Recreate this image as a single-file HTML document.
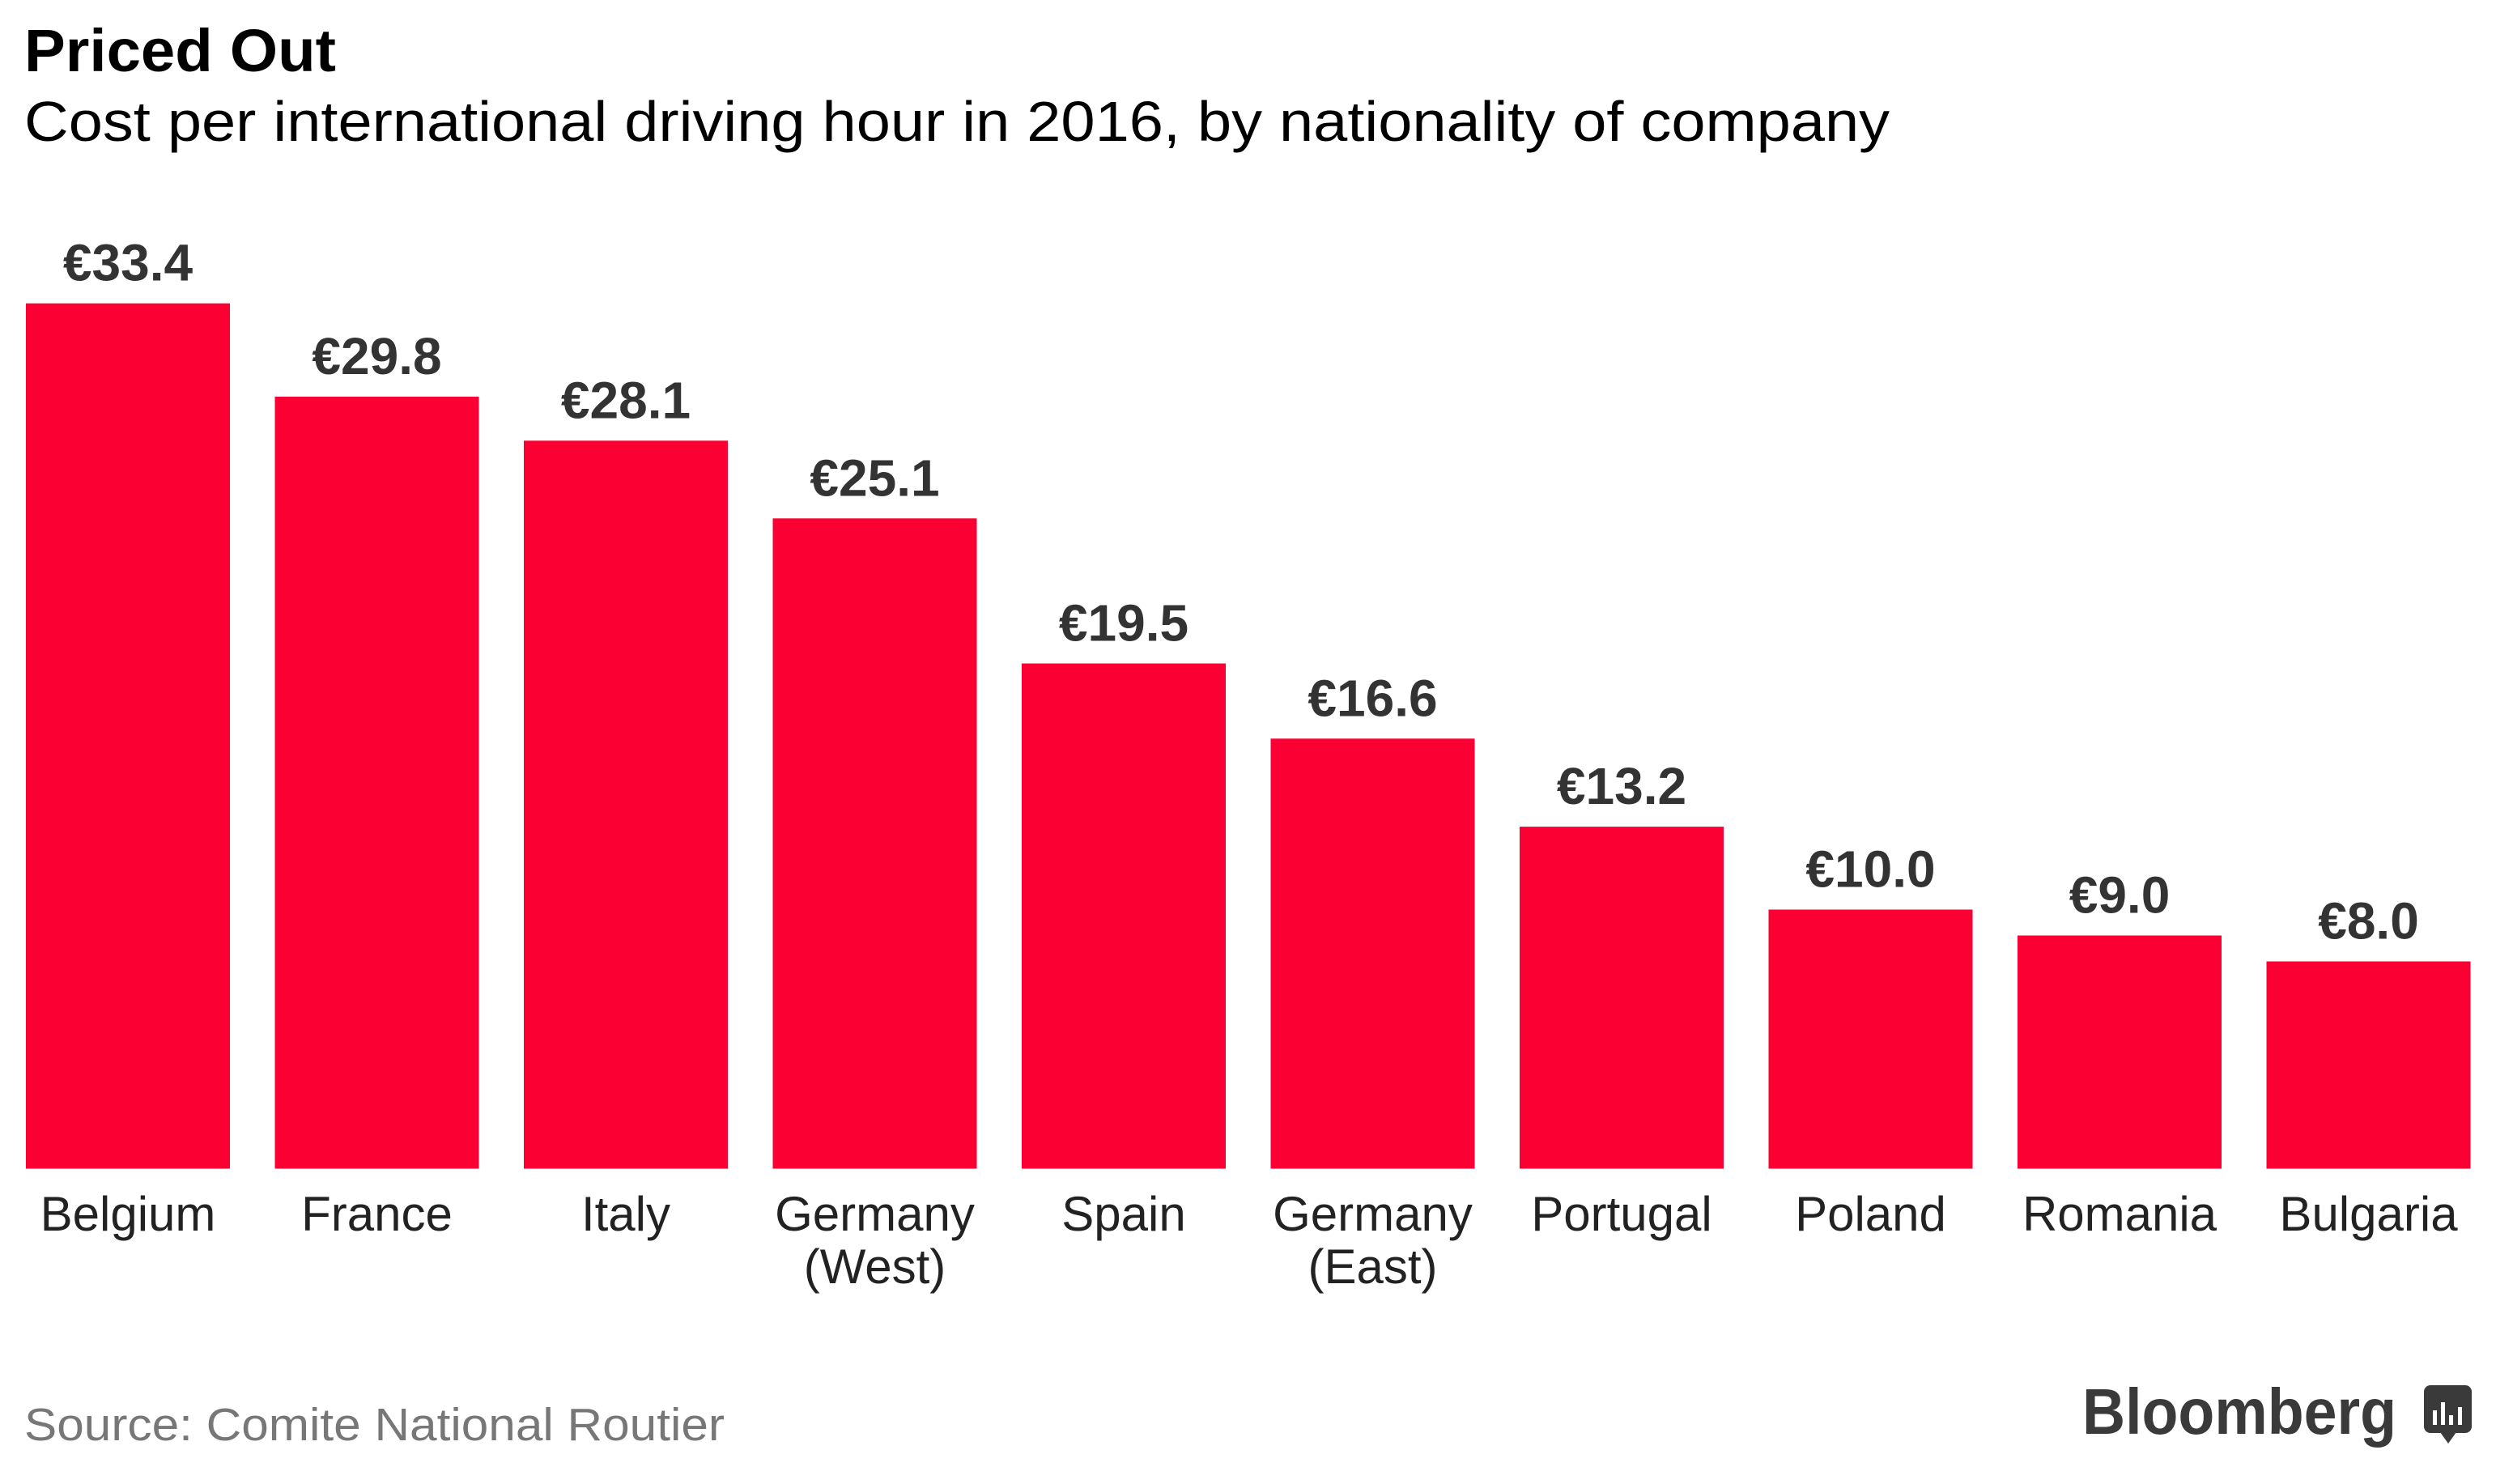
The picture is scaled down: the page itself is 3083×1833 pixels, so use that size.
<!DOCTYPE html>
<html><head><meta charset="utf-8"><style>
html,body{margin:0;padding:0;background:#fff;}
svg{display:block;font-family:"Liberation Sans",Arial,sans-serif;}
</style></head><body>
<svg id="chart" width="3083" height="1833" viewBox="0 0 3083 1833">
<rect width="3083" height="1833" fill="#fff"/>
<text x="30" y="88" font-size="74" font-weight="bold" fill="#000" textLength="385" lengthAdjust="spacingAndGlyphs">Priced Out</text>
<text x="30" y="174" font-size="70" fill="#000" textLength="2304" lengthAdjust="spacingAndGlyphs">Cost per international driving hour in 2016, by nationality of company</text>
<g id="bars"></g>
<text x="30" y="1779" font-size="57" fill="#777" textLength="865" lengthAdjust="spacingAndGlyphs">Source: Comite National Routier</text>
<text x="2572" y="1771" font-size="80" font-weight="bold" fill="#3a3a3a" textLength="388" lengthAdjust="spacingAndGlyphs">Bloomberg</text>
<g>
<rect x="2994" y="1711" width="59" height="59" rx="8" fill="#3a3a3a"/>
<path d="M3014 1769 L3024 1783 L3034 1769 Z" fill="#3a3a3a"/>
<rect x="3005" y="1742" width="5" height="18" fill="#fff"/>
<rect x="3015" y="1732" width="5" height="28" fill="#fff"/>
<rect x="3025" y="1748" width="5" height="12" fill="#fff"/>
<rect x="3036" y="1738" width="5" height="22" fill="#fff"/>
</g>
</svg>
<script>
const categories = ["Belgium","France","Italy","Germany|(West)","Spain","Germany|(East)","Portugal","Poland","Romania","Bulgaria"];
const values = [33.4,29.8,28.1,25.1,19.5,16.6,13.2,10.0,9.0,8.0];
const valueLabels = ["€33.4","€29.8","€28.1","€25.1","€19.5","€16.6","€13.2","€10.0","€9.0","€8.0"];

const NS="http://www.w3.org/2000/svg";
const baseY=1443.5, pxPerUnit=32.0, left0=32, step=307.5, barW=252;
const y=v=>baseY-v*pxPerUnit;
const x=i=>left0+i*step;
const g=document.getElementById('bars');
categories.forEach((c,i)=>{
  const r=document.createElementNS(NS,'rect');
  r.setAttribute('x',x(i));r.setAttribute('y',y(values[i]));
  r.setAttribute('width',barW);r.setAttribute('height',baseY-y(values[i]));
  r.setAttribute('fill','#fb0032');
  
  
  g.appendChild(r);
  const t=document.createElementNS(NS,'text');
  t.setAttribute('x',x(i)+barW/2);t.setAttribute('y',y(values[i])-28);
  t.setAttribute('text-anchor','middle');t.setAttribute('font-size','64');
  t.setAttribute('font-weight','bold');t.setAttribute('fill','#333');
  t.textContent=valueLabels[i];
  
  
  g.appendChild(t);
  c.split('|').forEach((line,j)=>{
    const l=document.createElementNS(NS,'text');
    l.setAttribute('x',x(i)+barW/2);l.setAttribute('y',1520+j*65);
    l.setAttribute('text-anchor','middle');l.setAttribute('font-size','60');
    l.setAttribute('fill','#222');
    l.textContent=line;
    
    
    g.appendChild(l);
  });
});
</script>
</body></html>
